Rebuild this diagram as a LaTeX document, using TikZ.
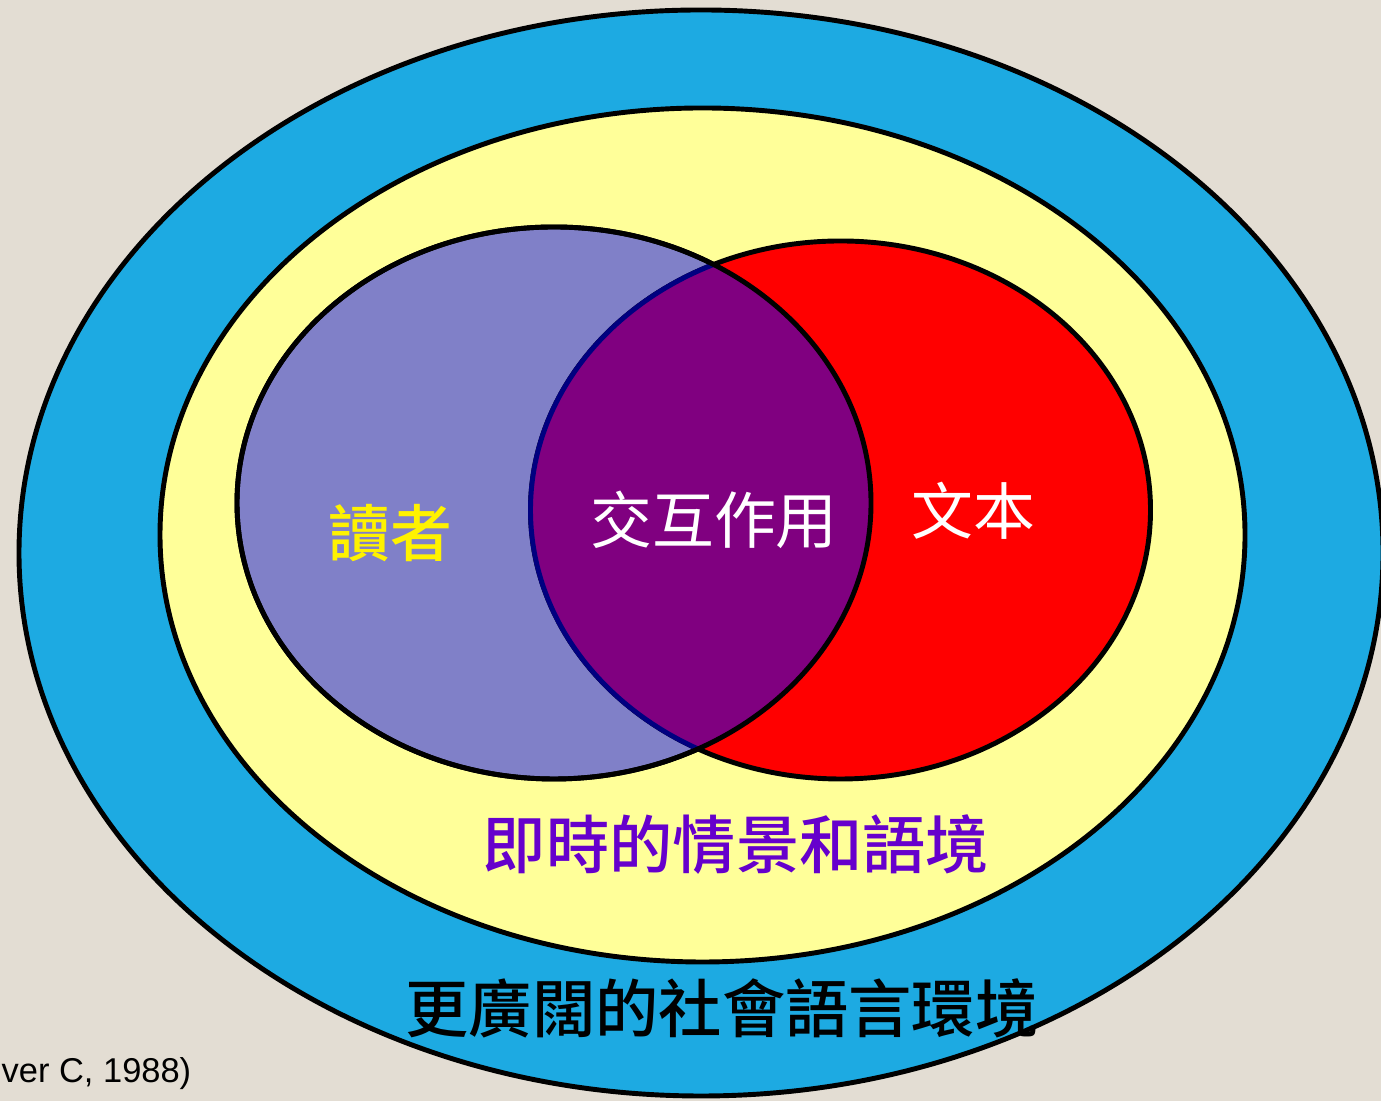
\documentclass[tikz,border=0pt]{standalone}
\usepackage{fontspec}
\setmainfont{Liberation Sans}
\newfontfamily\cjk[BoldFont={Noto Sans CJK TC Medium}]{Noto Sans CJK TC}
\definecolor{fundo}{HTML}{E3DDD3}
\definecolor{azul}{HTML}{1DAAE2}
\definecolor{amarelo}{HTML}{FFFF99}
\definecolor{lilas}{HTML}{8080C8}
\definecolor{roxo}{HTML}{800080}
\definecolor{marinho}{HTML}{000080}
\definecolor{violeta}{HTML}{6600CC}
\begin{document}
\begin{tikzpicture}[
    borda/.style={draw=black, line width=1.4pt},
    rotulo/.style={inner sep=0pt, font=\cjk\fontsize{17.6}{20}\selectfont},
  ]
  % Fundo
  \useasboundingbox (0,0) rectangle (13.81,11.01);
  \fill[fundo] (0,0) rectangle (13.81,11.01);

  % Contextos
  \filldraw[borda, fill=azul] (7.01,5.48) ellipse [x radius=6.82, y radius=5.43];
  \filldraw[borda, fill=amarelo] (7.025,5.66) ellipse [x radius=5.425, y radius=4.27];

  % Leitor e texto
  \filldraw[borda, fill=lilas] (5.54,5.98) ellipse [x radius=3.17, y radius=2.76];
  \filldraw[borda, fill=red] (8.405,5.91) ellipse [x radius=3.10, y radius=2.69];

  % Intersecção
  \begin{scope}
    \clip (5.54,5.98) ellipse [x radius=3.17, y radius=2.76];
    \filldraw[line width=1.4pt, draw=marinho, fill=roxo] (8.405,5.91) ellipse [x radius=3.10, y radius=2.69];
  \end{scope}
  \draw[borda] (5.54,5.98) ellipse [x radius=3.17, y radius=2.76];

  % Rótulos
  \node[rotulo, text=yellow, font=\cjk\bfseries\fontsize{17.6}{20}\selectfont] (leitor) at (3.90,5.68) {讀者};
  \node[rotulo, text=white] (interacao) at (7.14,5.81) {交互作用};
  \node[rotulo, text=white] (texto) at (9.73,5.90) {文本};
  \node[rotulo, text=violeta, font=\cjk\bfseries\fontsize{18}{20}\selectfont] (situacao) at (7.36,2.56) {即時的情景和語境};
  \node[rotulo, text=black, font=\cjk\bfseries\fontsize{18}{20}\selectfont] (social) at (7.22,0.93) {更廣闊的社會語言環境};
  \node[inner sep=0pt, anchor=base west, font=\fontsize{9.8}{12}\selectfont] (fonte) at (0.01,0.18) {ver C, 1988)};
\end{tikzpicture}
\end{document}
